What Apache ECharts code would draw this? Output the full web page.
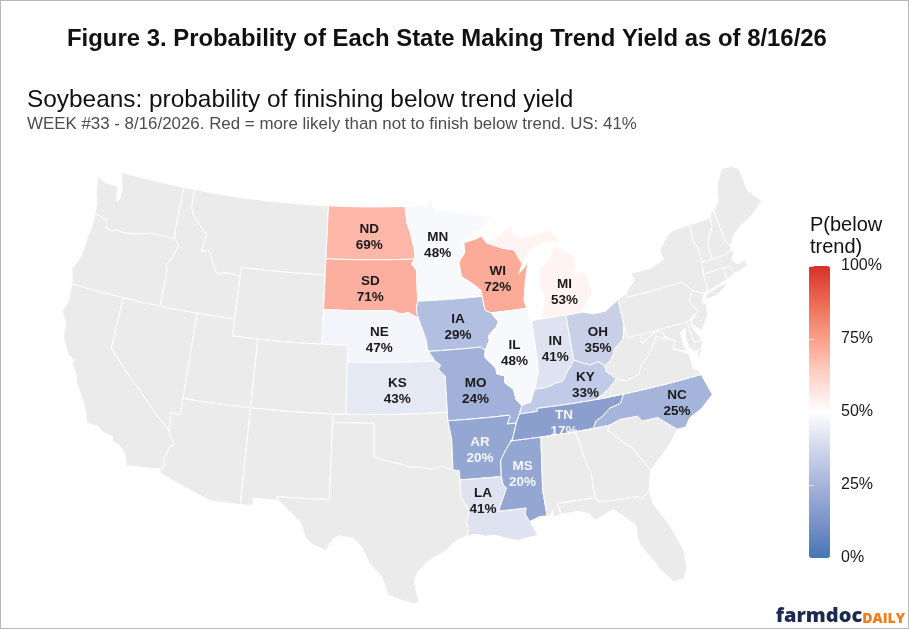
<!DOCTYPE html>
<html><head><meta charset="utf-8">
<style>html,body{margin:0;padding:0;background:#fff}#c{width:910px;height:630px}#f{position:absolute;left:0;top:0;width:909px;height:629px;box-sizing:border-box;border:1px solid #b9b9b9;pointer-events:none}</style>
<script src="https://cdn.jsdelivr.net/npm/echarts@6/dist/echarts.min.js"></script>
</head><body><div id="c"></div><div id="f"></div>
<script>
// ---- values ----
const stateCodes = ['ND','SD','MN','WI','MI','NE','IA','IL','IN','OH','KS','MO','KY','AR','TN','NC','MS','LA'];
const belowTrendPct = [69,71,48,72,53,47,29,48,41,35,43,24,33,20,17,25,20,41];
const lightLabelStates = ['AR','TN','MS'];
const tickValues = [0,25,50,75,100];
const colorStops = ['#4575b4','#7b93c8','#a5b4da','#d1d7ec','#ffffff','#ffd2c8','#fb9f8a','#ec6b55','#d73027'];
const titleText = 'Figure 3. Probability of Each State Making Trend Yield as of 8/16/26';
const subtitleText = 'Soybeans: probability of finishing below trend yield';
const noteText = 'WEEK #33 - 8/16/2026. Red = more likely than not to finish below trend. US: 41%';
const legendTitle = 'P(below\ntrend)';
// label anchors, lon/lat
const labelAnchors = {ND:[-100.4,47.27],SD:[-100.3,44.26],MN:[-94.55,46.66],WI:[-89.8,44.37],MI:[-84.57,43.07],NE:[-99.58,41.3],IA:[-93.35,41.88],IL:[-89.2,40.01],IN:[-86.07,39.9],OH:[-82.72,39.96],KS:[-98.25,38.33],MO:[-92.42,38.11],KY:[-84.3,37.51],AR:[-92.48,34.63],TN:[-86.3,35.6],NC:[-78.1,35.31],MS:[-89.7,32.99],LA:[-92.58,31.69]};
// state outlines, lon/lat
const stateShapes = {
WA:[[[-124.7,48.38],[-123.9,48.16],[-123.1,48.15],[-122.75,48.15],[-122.6,47.6],[-122.45,47.3],[-122.3,47.5],[-122.3,48],[-122.5,48.4],[-122.76,49],[-117.03,49],[-117.04,46.42],[-116.92,45.995],[-118.98,46],[-119.3,45.93],[-120.5,45.7],[-121.2,45.65],[-121.8,45.7],[-122.3,45.55],[-122.75,45.65],[-122.9,46.1],[-123.4,46.2],[-124,46.27],[-124.1,46.9],[-124.4,47.5]]],
OR:[[[-124,46.27],[-123.4,46.2],[-122.9,46.1],[-122.75,45.65],[-122.3,45.55],[-121.8,45.7],[-121.2,45.65],[-120.5,45.7],[-119.3,45.93],[-118.98,46],[-116.92,45.995],[-116.47,45.6],[-116.7,45.2],[-116.85,44.95],[-117.2,44.4],[-117.05,44.15],[-117.03,43.85],[-117.03,42],[-124.2,42],[-124.55,42.84],[-124.1,43.7],[-124.05,44.7],[-123.95,45.5]]],
CA:[[[-124.2,42],[-120,42],[-120,39],[-114.63,35],[-114.57,34.8],[-114.14,34.3],[-114.43,34.05],[-114.53,33.6],[-114.72,33.4],[-114.5,33],[-114.72,32.72],[-117.12,32.53],[-117.25,32.85],[-117.4,33.25],[-118,33.65],[-118.4,33.75],[-118.5,34.03],[-119.2,34.15],[-119.6,34.4],[-120.5,34.45],[-120.65,34.9],[-121,35.5],[-121.9,36.6],[-122,36.95],[-122.5,37.5],[-122.5,37.8],[-123,38],[-123.7,38.9],[-123.85,39.8],[-124.35,40.3],[-124.1,41],[-124.2,41.8]]],
NV:[[[-120,42],[-114.04,42],[-114.04,36.2],[-114.15,36],[-114.75,36.1],[-114.63,35],[-120,39]]],
ID:[[[-117.03,49],[-116.05,49],[-116.05,48],[-115.7,47.5],[-115,47],[-114.6,46.65],[-114.35,46.65],[-114.55,45.56],[-113.95,45.7],[-113.5,45.1],[-113,44.45],[-112.3,44.55],[-111.5,44.55],[-111.05,44.48],[-111.05,42],[-117.03,42],[-117.03,43.85],[-117.05,44.15],[-117.2,44.4],[-116.85,44.95],[-116.7,45.2],[-116.47,45.6],[-116.92,45.995],[-117.04,46.42]]],
MT:[[[-116.05,49],[-104.05,49],[-104.05,45],[-111.05,45],[-111.05,44.48],[-111.5,44.55],[-112.3,44.55],[-113,44.45],[-113.5,45.1],[-113.95,45.7],[-114.55,45.56],[-114.35,46.65],[-114.6,46.65],[-115,47],[-115.7,47.5],[-116.05,48]]],
WY:[[[-111.05,45],[-104.05,45],[-104.05,41],[-111.05,41]]],
UT:[[[-114.04,42],[-111.05,42],[-111.05,41],[-109.05,41],[-109.05,37],[-114.04,37]]],
CO:[[[-109.05,41],[-102.05,41],[-102.05,37],[-109.05,37]]],
AZ:[[[-114.04,37],[-109.05,37],[-109.05,31.33],[-111.07,31.33],[-114.81,32.5],[-114.72,32.72],[-114.5,33],[-114.72,33.4],[-114.53,33.6],[-114.43,34.05],[-114.14,34.3],[-114.57,34.8],[-114.63,35],[-114.75,36.1],[-114.15,36],[-114.04,36.2]]],
NM:[[[-109.05,37],[-103,37],[-103.04,32],[-106.62,32],[-106.53,31.78],[-108.2,31.78],[-108.2,31.33],[-109.05,31.33]]],
ND:[[[-104.05,49],[-97.23,49],[-97.1,48],[-96.85,47.5],[-96.55,46.5],[-96.56,45.94],[-104.05,45.94]]],
SD:[[[-104.05,45.94],[-96.56,45.94],[-96.84,45.65],[-96.45,45.3],[-96.45,43.5],[-96.6,43],[-96.45,42.5],[-97.2,42.85],[-97.9,42.8],[-98.5,43],[-104.05,43]]],
NE:[[[-104.05,43],[-98.5,43],[-97.9,42.8],[-97.2,42.85],[-96.45,42.5],[-96.1,41.7],[-95.9,41.2],[-95.85,40.7],[-95.31,40],[-102.05,40],[-102.05,41],[-104.05,41]]],
KS:[[[-102.05,40],[-95.31,40],[-94.9,39.75],[-95.1,39.5],[-94.61,39.11],[-94.62,37],[-102.05,37]]],
OK:[[[-103,37],[-94.62,37],[-94.62,36.5],[-94.43,35.4],[-94.48,33.64],[-95.3,33.88],[-96,33.75],[-96.9,33.9],[-97.5,33.9],[-98.1,34.1],[-99.2,34.3],[-100,34.56],[-100,36.5],[-103,36.5]]],
TX:[[[-106.62,32],[-103.04,32],[-103,36.5],[-100,36.5],[-100,34.56],[-99.2,34.3],[-98.1,34.1],[-97.5,33.9],[-96.9,33.9],[-96,33.75],[-95.3,33.88],[-94.48,33.64],[-94.04,33.55],[-94.04,32],[-93.55,31.2],[-93.8,30.5],[-93.7,30.1],[-93.85,29.7],[-94.7,29.4],[-95.3,28.9],[-96.4,28.4],[-97.1,27.8],[-97.4,27.3],[-97.35,26.8],[-97.15,25.96],[-97.5,25.85],[-98.2,26.05],[-99.1,26.4],[-99.5,27.5],[-100.3,28.3],[-100.8,29.25],[-101.4,29.77],[-102.3,29.88],[-102.7,29.7],[-103.15,28.98],[-104,29.3],[-104.5,29.65],[-104.9,30.55],[-106,31.4],[-106.53,31.78]]],
MN:[[[-97.23,49],[-95.15,49],[-95.15,49.38],[-94.8,49.3],[-94.6,48.72],[-93,48.6],[-92,48.3],[-90.8,48.2],[-89.6,48],[-90.9,47.3],[-92.05,46.72],[-92.3,46.65],[-92.3,46.1],[-92.85,45.6],[-92.75,44.75],[-91.9,44.3],[-91.25,43.85],[-91.22,43.5],[-96.45,43.5],[-96.45,45.3],[-96.84,45.65],[-96.56,45.94],[-96.55,46.5],[-96.85,47.5],[-97.1,48]]],
IA:[[[-96.45,43.5],[-91.22,43.5],[-91.1,42.7],[-90.64,42.5],[-90.15,41.95],[-90.3,41.7],[-91.05,41.2],[-91,40.95],[-91.4,40.38],[-91.73,40.6],[-95.77,40.58],[-95.85,40.7],[-95.9,41.2],[-96.1,41.7],[-96.45,42.5],[-96.6,43]]],
MO:[[[-95.77,40.58],[-91.73,40.6],[-91.4,40.38],[-91.5,40],[-90.75,39.3],[-90.7,38.95],[-90.15,38.8],[-90.2,38.4],[-89.6,37.95],[-89.5,37.3],[-89.13,36.98],[-89.4,36.5],[-89.7,36],[-90.37,36],[-90.1,36.4],[-90.15,36.5],[-94.62,36.5],[-94.62,37],[-94.61,39.11],[-95.1,39.5],[-94.9,39.75],[-95.31,40],[-95.85,40.7]]],
AR:[[[-94.62,36.5],[-90.15,36.5],[-90.1,36.4],[-90.37,36],[-89.7,36],[-90.1,35.1],[-90.6,34.6],[-91.1,33.95],[-91.17,33],[-94.04,33.02],[-94.04,33.55],[-94.48,33.64],[-94.43,35.4]]],
LA:[[[-94.04,33.02],[-91.17,33],[-91.1,32.5],[-90.9,32.3],[-91.6,31],[-89.73,31],[-89.85,30.65],[-89.6,30.18],[-89.4,29.8],[-89.2,29.3],[-89.9,29.25],[-90.5,29.15],[-91.3,29.35],[-91.9,29.6],[-92.6,29.6],[-93.3,29.77],[-93.85,29.7],[-93.7,30.1],[-93.8,30.5],[-93.55,31.2],[-94.04,32]]],
WI:[[[-92.05,46.72],[-91.2,46.85],[-90.75,46.95],[-90.4,46.55],[-89.1,46.13],[-88.1,45.92],[-87.8,45.35],[-87.6,45.1],[-88,44.55],[-87.4,44.9],[-87.05,45.25],[-87.5,44.3],[-87.9,43],[-87.8,42.49],[-90.64,42.5],[-91.1,42.7],[-91.22,43.5],[-91.25,43.85],[-91.9,44.3],[-92.75,44.75],[-92.85,45.6],[-92.3,46.1],[-92.3,46.65]]],
IL:[[[-90.64,42.5],[-87.8,42.49],[-87.53,41.7],[-87.53,39.3],[-87.6,38.7],[-88.05,37.8],[-88.45,37.1],[-89.13,36.98],[-89.5,37.3],[-89.6,37.95],[-90.2,38.4],[-90.15,38.8],[-90.7,38.95],[-90.75,39.3],[-91.5,40],[-91.4,40.38],[-91,40.95],[-91.05,41.2],[-90.3,41.7],[-90.15,41.95]]],
IN:[[[-87.53,41.7],[-87.2,41.76],[-84.8,41.76],[-84.82,39.1],[-85.2,38.7],[-85.45,38.5],[-85.9,38],[-86.5,37.95],[-87.1,37.8],[-88.05,37.8],[-87.6,38.7],[-87.53,39.3]]],
OH:[[[-84.8,41.72],[-83.45,41.73],[-82.7,41.5],[-81.7,41.5],[-80.52,41.98],[-80.52,40.64],[-80.65,40.1],[-80.85,39.7],[-81.7,39.2],[-81.75,39],[-82.2,38.6],[-82.6,38.42],[-83,38.72],[-83.7,38.65],[-84.25,38.85],[-84.82,39.1]]],
KY:[[[-89.13,36.98],[-88.45,37.1],[-88.05,37.8],[-87.1,37.8],[-86.5,37.95],[-85.9,38],[-85.45,38.5],[-85.2,38.7],[-84.82,39.1],[-84.25,38.85],[-83.7,38.65],[-83,38.72],[-82.6,38.42],[-82.6,38.1],[-81.97,37.54],[-82.7,37.05],[-83.68,36.6],[-88.07,36.68],[-88.07,36.5],[-89.4,36.5]]],
TN:[[[-89.4,36.5],[-88.07,36.5],[-88.07,36.68],[-83.68,36.6],[-81.68,36.59],[-82.05,36.1],[-82.9,35.95],[-83.5,35.57],[-84,35.4],[-84.32,34.99],[-90.3,35],[-90.1,35.1],[-89.7,36]]],
MS:[[[-90.3,35],[-88.2,35],[-88.1,34.9],[-88.47,31.9],[-88.4,30.37],[-88.9,30.4],[-89.6,30.18],[-89.85,30.65],[-89.73,31],[-91.6,31],[-90.9,32.3],[-91.1,32.5],[-91.17,33],[-91.1,33.95],[-90.6,34.6],[-90.1,35.1]]],
AL:[[[-88.2,35],[-85.6,34.98],[-85.18,32.87],[-85,32.3],[-85.05,31.55],[-85,31],[-87.6,31],[-87.45,30.35],[-88,30.25],[-88,30.7],[-88.15,30.35],[-88.4,30.37],[-88.47,31.9],[-88.1,34.9]]],
GA:[[[-85.6,34.98],[-83.1,35],[-83.35,34.7],[-83,34.45],[-82.55,33.95],[-81.9,33.45],[-81.4,32.6],[-81.1,32.1],[-81,31.9],[-81.4,30.75],[-82.05,30.37],[-82.2,30.55],[-84.86,30.7],[-85,31],[-85.05,31.55],[-85,32.3],[-85.18,32.87]]],
FL:[[[-87.6,31],[-85,31],[-84.86,30.7],[-82.2,30.55],[-82.05,30.37],[-81.4,30.75],[-81.3,29.9],[-80.55,28.45],[-80.05,26.85],[-80.15,25.7],[-80.45,25.2],[-81.1,25.15],[-81.75,25.95],[-82.1,26.7],[-82.7,27.7],[-82.8,28.2],[-82.7,28.9],[-83.4,29.6],[-84,30.1],[-85.3,29.68],[-85.6,30.1],[-86.3,30.38],[-87.45,30.35]]],
SC:[[[-83.1,35],[-82.3,35.2],[-81.05,35.15],[-80.8,34.82],[-79.67,34.8],[-78.55,33.86],[-79.2,33.2],[-80,32.6],[-81,31.9],[-81.1,32.1],[-81.4,32.6],[-81.9,33.45],[-82.55,33.95],[-83,34.45],[-83.35,34.7]]],
NC:[[[-84.32,34.99],[-84,35.4],[-83.5,35.57],[-82.9,35.95],[-82.05,36.1],[-81.68,36.59],[-75.87,36.55],[-75.5,35.25],[-76.5,34.65],[-77.5,34.3],[-77.95,33.85],[-78.55,33.86],[-79.67,34.8],[-80.8,34.82],[-81.05,35.15],[-82.3,35.2],[-83.1,35]]],
VA:[[[-83.68,36.6],[-82.7,37.05],[-81.97,37.54],[-81.3,37.3],[-80.3,37.5],[-79.95,38],[-79.3,38.42],[-78.85,38.8],[-78.35,39.4],[-77.83,39.13],[-77.5,39.1],[-77.05,38.85],[-77.3,38.4],[-76.3,37.9],[-76.3,37],[-75.97,36.85],[-75.87,36.55],[-81.68,36.59]],[[-75.95,37.15],[-75.6,37.95],[-75.25,38.03]]],
WV:[[[-82.6,38.42],[-82.2,38.6],[-81.75,39],[-81.7,39.2],[-80.85,39.7],[-80.65,40.1],[-80.52,40.64],[-80.52,39.72],[-79.48,39.72],[-79.48,39.2],[-78.85,39.45],[-78.35,39.65],[-77.83,39.6],[-77.72,39.32],[-77.83,39.13],[-78.35,39.4],[-78.85,38.8],[-79.3,38.42],[-79.95,38],[-80.3,37.5],[-81.3,37.3],[-81.97,37.54],[-82.6,38.1]]],
MD:[[[-79.48,39.72],[-75.79,39.72],[-75.7,38.46],[-75.05,38.45],[-75.25,38.03],[-75.6,37.95],[-75.9,37.95],[-76.2,38.3],[-76.2,38.9],[-76.05,39.4],[-76.5,39.2],[-76.5,38.4],[-76.35,38.05],[-77.3,38.4],[-77.05,38.85],[-77.5,39.1],[-77.72,39.32],[-77.83,39.6],[-78.35,39.65],[-78.85,39.45],[-79.48,39.2]]],
DE:[[[-75.79,39.72],[-75.42,39.8],[-75.55,39.5],[-75.4,39.05],[-75.05,38.45],[-75.7,38.46]]],
PA:[[[-80.52,41.98],[-79.76,42.27],[-79.76,42],[-75.35,42],[-75.05,41.75],[-74.7,41.36],[-75.13,40.95],[-75.1,40.6],[-74.72,40.15],[-75.42,39.8],[-75.79,39.72],[-80.52,39.72]]],
NJ:[[[-74.7,41.36],[-73.9,41],[-74.25,40.5],[-73.98,40.4],[-74.1,39.75],[-74.9,38.95],[-75.4,39.4],[-75.55,39.6],[-74.72,40.15],[-75.1,40.6],[-75.13,40.95]]],
NY:[[[-79.76,42.27],[-78.9,42.85],[-79.05,43.27],[-77.5,43.27],[-76.2,43.55],[-76.3,44.1],[-75.3,44.85],[-74.7,45],[-73.35,45],[-73.43,44],[-73.25,43.6],[-73.27,42.75],[-73.5,42.05],[-73.5,41.3],[-73.65,41],[-73.9,41],[-74.7,41.36],[-75.05,41.75],[-75.35,42],[-79.76,42]],[[-74,40.6],[-73.7,40.9],[-72.3,41.15],[-71.9,41.05],[-73,40.65]]],
VT:[[[-73.35,45],[-71.5,45],[-71.6,44.5],[-72.05,44.1],[-72.4,43.5],[-72.46,42.73],[-73.27,42.75],[-73.25,43.6],[-73.43,44]]],
NH:[[[-71.5,45],[-71.3,45.3],[-71.05,45.3],[-70.98,43.4],[-70.7,43.07],[-70.82,42.87],[-71.3,42.7],[-72.46,42.73],[-72.4,43.5],[-72.05,44.1],[-71.6,44.5]]],
ME:[[[-71.05,45.3],[-70.4,45.8],[-70.25,46.2],[-70,46.7],[-69.2,47.45],[-68.3,47.35],[-67.8,47.07],[-67.8,45.7],[-67.45,45.3],[-67,44.85],[-68.2,44.3],[-69,44.1],[-70.2,43.6],[-70.7,43.07],[-70.98,43.4]]],
MA:[[[-73.5,42.05],[-73.27,42.75],[-72.46,42.73],[-71.3,42.7],[-70.82,42.87],[-70.6,42.65],[-71,42.3],[-70.65,41.95],[-70,42.05],[-69.95,41.67],[-70.65,41.55],[-71.13,41.5],[-71.38,42.02],[-71.8,42.02]]],
RI:[[[-71.8,42.02],[-71.38,42.02],[-71.13,41.5],[-71.85,41.32]]],
CT:[[[-73.5,42.05],[-71.8,42.02],[-71.85,41.32],[-73.65,41],[-73.5,41.3]]],
MI:[[[-86.82,41.76],[-84.8,41.76],[-84.8,41.72],[-83.45,41.73],[-83.15,42.05],[-82.5,42.6],[-82.42,43],[-82.6,43.85],[-83,44.07],[-83.9,43.65],[-83.3,44.35],[-83.3,45],[-84.75,45.78],[-85.1,45.4],[-85.6,44.9],[-86.25,44.7],[-86.5,43.7],[-86.2,42.8]],[[-90.4,46.55],[-89.1,46.13],[-88.1,45.92],[-87.8,45.35],[-87.6,45.1],[-86.6,45.85],[-85.5,46.08],[-84.75,45.95],[-84.1,46],[-84.55,46.45],[-85,46.75],[-86.1,46.65],[-87.4,46.5],[-88.2,46.95],[-87.8,47.45],[-88.9,47]]]
};
// ---- conic equal-area ----
const rad=Math.PI/180,p1=39*rad,p2=47*rad,p0=38*rad,l0=-100*rad,yStretch=1.014;
const n=(Math.sin(p1)+Math.sin(p2))/2,C=Math.cos(p1)**2+2*n*Math.sin(p1),r0=Math.sqrt(C-2*n*Math.sin(p0))/n;
const albers={
 project(c){const th=n*(c[0]*rad-l0),r=Math.sqrt(C-2*n*Math.sin(c[1]*rad))/n;return [r*Math.sin(th)*1000,-(r0-r*Math.cos(th))*1000*yStretch];},
 unproject(p){const x=p[0]/1000,y=r0+p[1]/1000/yStretch,r=Math.hypot(x,y),th=Math.atan2(x,y);return [(th/n+l0)/rad,Math.asin((C-(r*n)**2)/(2*n))/rad];}
};
function densify(ring){const out=[];for(let i=0;i<ring.length;i++){const a=ring[i],b=ring[(i+1)%ring.length];const k=Math.max(1,Math.ceil(Math.abs(b[0]-a[0])));for(let j=0;j<k;j++)out.push([a[0]+(b[0]-a[0])*j/k,a[1]+(b[1]-a[1])*j/k]);}out.push(out[0]);return out;}
const features=Object.keys(stateShapes).map(k=>({type:'Feature',properties:{name:k,cp:labelAnchors[k]},geometry:{type:'MultiPolygon',coordinates:stateShapes[k].map(r=>[densify(r)])}}));
echarts.registerMap('us',{type:'FeatureCollection',features});
const chart=echarts.init(document.getElementById('c'),null,{renderer:'canvas'});
const F='"Liberation Sans",Arial,sans-serif';
chart.setOption({
 backgroundColor:'#fff',animation:false,
 title:[
  {text:titleText,left:67,top:27,padding:0,textStyle:{fontFamily:F,fontSize:23.9,fontWeight:'bold',color:'#111'}},
  {text:subtitleText,left:27,top:88,padding:0,textStyle:{fontFamily:F,fontSize:24.4,fontWeight:'normal',color:'#111'}},
  {text:noteText,left:27,top:116,padding:0,textStyle:{fontFamily:F,fontSize:16.9,fontWeight:'normal',color:'#4d4d4d'}},
  {text:legendTitle,left:810,top:214,padding:0,textStyle:{fontFamily:F,fontSize:20,fontWeight:'normal',color:'#111',lineHeight:22.5}},
  {text:'{a|farmdoc}{b|DAILY}',right:5,top:606,padding:0,textStyle:{rich:{a:{fontFamily:'"Open Sans"',fontWeight:800,fontSize:20,color:'#1b2a4e'},b:{fontFamily:'"Open Sans"',fontWeight:800,fontSize:14,color:'#ee7d1a',verticalAlign:'bottom'}}}}
 ],
 grid:{left:809,top:266,width:21,height:292,show:false},
 xAxis:{type:'value',show:false,min:0,max:1},
 yAxis:[
  {type:'value',position:'right',min:tickValues[0],max:tickValues[4],interval:25,z:10,axisLine:{show:false},splitLine:{show:false},
   axisTick:{show:true,inside:true,length:5,lineStyle:{color:'#fff',opacity:.7}},
   axisLabel:{show:true,margin:11,fontFamily:F,fontSize:16,color:'#1a1a1a',padding:[7,0,0,0],formatter:'{value}%'}},
  {type:'value',position:'left',min:tickValues[0],max:tickValues[4],interval:25,z:10,axisLine:{show:false},splitLine:{show:false},
   axisTick:{show:true,inside:true,length:5,lineStyle:{color:'#fff',opacity:.7}},axisLabel:{show:false}}
 ],
 visualMap:{type:'continuous',min:0,max:100,seriesIndex:0,left:809,top:266,itemWidth:21,itemHeight:292,padding:0,calculable:false,hoverLink:false,showLabel:false,text:null,inRange:{color:colorStops}},
 series:[{
  type:'map',map:'us',projection:albers,silent:true,roam:false,selectedMode:false,
  layoutCenter:[412,385],layoutSize:700,
  itemStyle:{areaColor:'#ebebeb',borderColor:'#fff',borderWidth:1},
  label:{show:false},emphasis:{disabled:true},
  data:stateCodes.map((s,i)=>({name:s,value:belowTrendPct[i],label:{show:true,formatter:'{b}\n{c}%',fontFamily:F,fontSize:13.5,fontWeight:'bold',lineHeight:16,color:lightLabelStates.includes(s)?'#f4f6fb':'#1a1a1a'}}))
 }]
});
</script></body></html>
